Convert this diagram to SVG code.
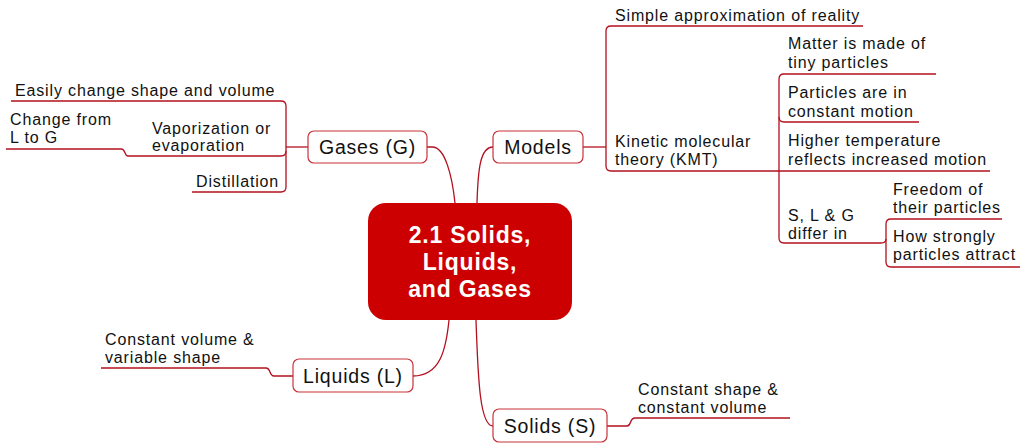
<svg xmlns="http://www.w3.org/2000/svg" width="1024" height="448" viewBox="0 0 1024 448">
<style>
.ln{fill:none;stroke:#b3101e;stroke-width:1.3}
.nd{fill:#fff;stroke:#c8323a;stroke-width:1.2}
.t{font-family:"Liberation Sans",Arial,sans-serif;font-size:16px;letter-spacing:0.85px;fill:#111}
.n{font-family:"Liberation Sans",Arial,sans-serif;font-size:19.5px;letter-spacing:0.8px;fill:#111;text-anchor:middle}
.c{font-family:"Liberation Sans",Arial,sans-serif;font-size:23px;font-weight:bold;letter-spacing:0.8px;fill:#fff;text-anchor:middle}
</style>
<rect width="1024" height="448" fill="#fff"/>
<g id="connectors">
<path class="ln" d="M427,147 L433,147 C445,148 452,175 455,203"/>
<path class="ln" d="M477,203 C478,170 480,147 493,147"/>
<path class="ln" d="M449,320 C446,350 440,376 413,376"/>
<path class="ln" d="M476,320 C478,380 480,426 493,426"/>
<path class="ln" d="M308,147 L286,147"/>
<path class="ln" d="M11,101 L281,101 Q286,101 286,106 L286,187 Q286,192 281,192 L192,192"/>
<path class="ln" d="M286,151 Q286,156 281,156 L128,156 C124,156 126,149 121,149 L6,149"/>
<path class="ln" d="M583,147 L606,147"/>
<path class="ln" d="M863,26 L611,26 Q606,26 606,31 L606,166 Q606,171 611,171 L990,171"/>
<path class="ln" d="M936,74 L784,74 Q779,74 779,79 L779,238 Q779,243 784,243 L881,243 Q886,243 886,239"/>
<path class="ln" d="M779,117 Q779,122 784,122 L919,122"/>
<path class="ln" d="M1002,219 L891,219 Q886,219 886,224 L886,262 Q886,267 891,267 L1020,267"/>
<path class="ln" d="M101,368 L266,368 C271,368 269,376 274,376 L293,376"/>
<path class="ln" d="M607,426 L627,426 C632,426 629,418 635,418 L790,418"/>
</g>
<g id="center">
<rect x="368" y="203" width="204" height="117" rx="18" fill="#cc0000"/>
<text class="c" x="470" y="243">2.1 Solids,</text>
<text class="c" x="470" y="270">Liquids,</text>
<text class="c" x="470" y="296.5">and Gases</text>
</g>
<g id="gases">
<rect class="nd" x="308" y="131" width="119" height="32" rx="6"/>
<text class="n" x="367.5" y="154">Gases (G)</text>
</g>
<g id="models">
<rect class="nd" x="493" y="131" width="90" height="32" rx="6"/>
<text class="n" x="538" y="154">Models</text>
</g>
<g id="liquids">
<rect class="nd" x="293" y="359" width="120" height="33" rx="6"/>
<text class="n" x="353" y="382.5">Liquids (L)</text>
</g>
<g id="solids">
<rect class="nd" x="493" y="409" width="114" height="33" rx="6"/>
<text class="n" x="550" y="432.5">Solids (S)</text>
</g>
<g id="gases-shape">
<text class="t" x="15" y="96">Easily change shape and volume</text>
</g>
<g id="gases-vapor">
<text class="t" x="152" y="134">Vaporization or</text>
<text class="t" x="152" y="151">evaporation</text>
</g>
<g id="gases-change">
<text class="t" x="10" y="125">Change from</text>
<text class="t" x="10" y="143">L to G</text>
</g>
<g id="gases-distill">
<text class="t" x="196" y="187">Distillation</text>
</g>
<g id="models-simple">
<text class="t" x="615" y="21">Simple approximation of reality</text>
</g>
<g id="models-kmt">
<text class="t" x="615" y="147">Kinetic molecular</text>
<text class="t" x="615" y="165">theory (KMT)</text>
</g>
<g id="kmt-matter">
<text class="t" x="788" y="49">Matter is made of</text>
<text class="t" x="788" y="68">tiny particles</text>
</g>
<g id="kmt-motion">
<text class="t" x="788" y="98">Particles are in</text>
<text class="t" x="788" y="117">constant motion</text>
</g>
<g id="kmt-temp">
<text class="t" x="788" y="146">Higher temperature</text>
<text class="t" x="788" y="165">reflects increased motion</text>
</g>
<g id="kmt-differ">
<text class="t" x="788" y="221">S, L &amp; G</text>
<text class="t" x="788" y="239">differ in</text>
</g>
<g id="differ-freedom">
<text class="t" x="893" y="195">Freedom of</text>
<text class="t" x="893" y="213">their particles</text>
</g>
<g id="differ-attract">
<text class="t" x="893" y="242">How strongly</text>
<text class="t" x="893" y="260">particles attract</text>
</g>
<g id="liquids-desc">
<text class="t" x="105" y="345">Constant volume &amp;</text>
<text class="t" x="105" y="363">variable shape</text>
</g>
<g id="solids-desc">
<text class="t" x="638" y="395">Constant shape &amp;</text>
<text class="t" x="638" y="413">constant volume</text>
</g>
</svg>
